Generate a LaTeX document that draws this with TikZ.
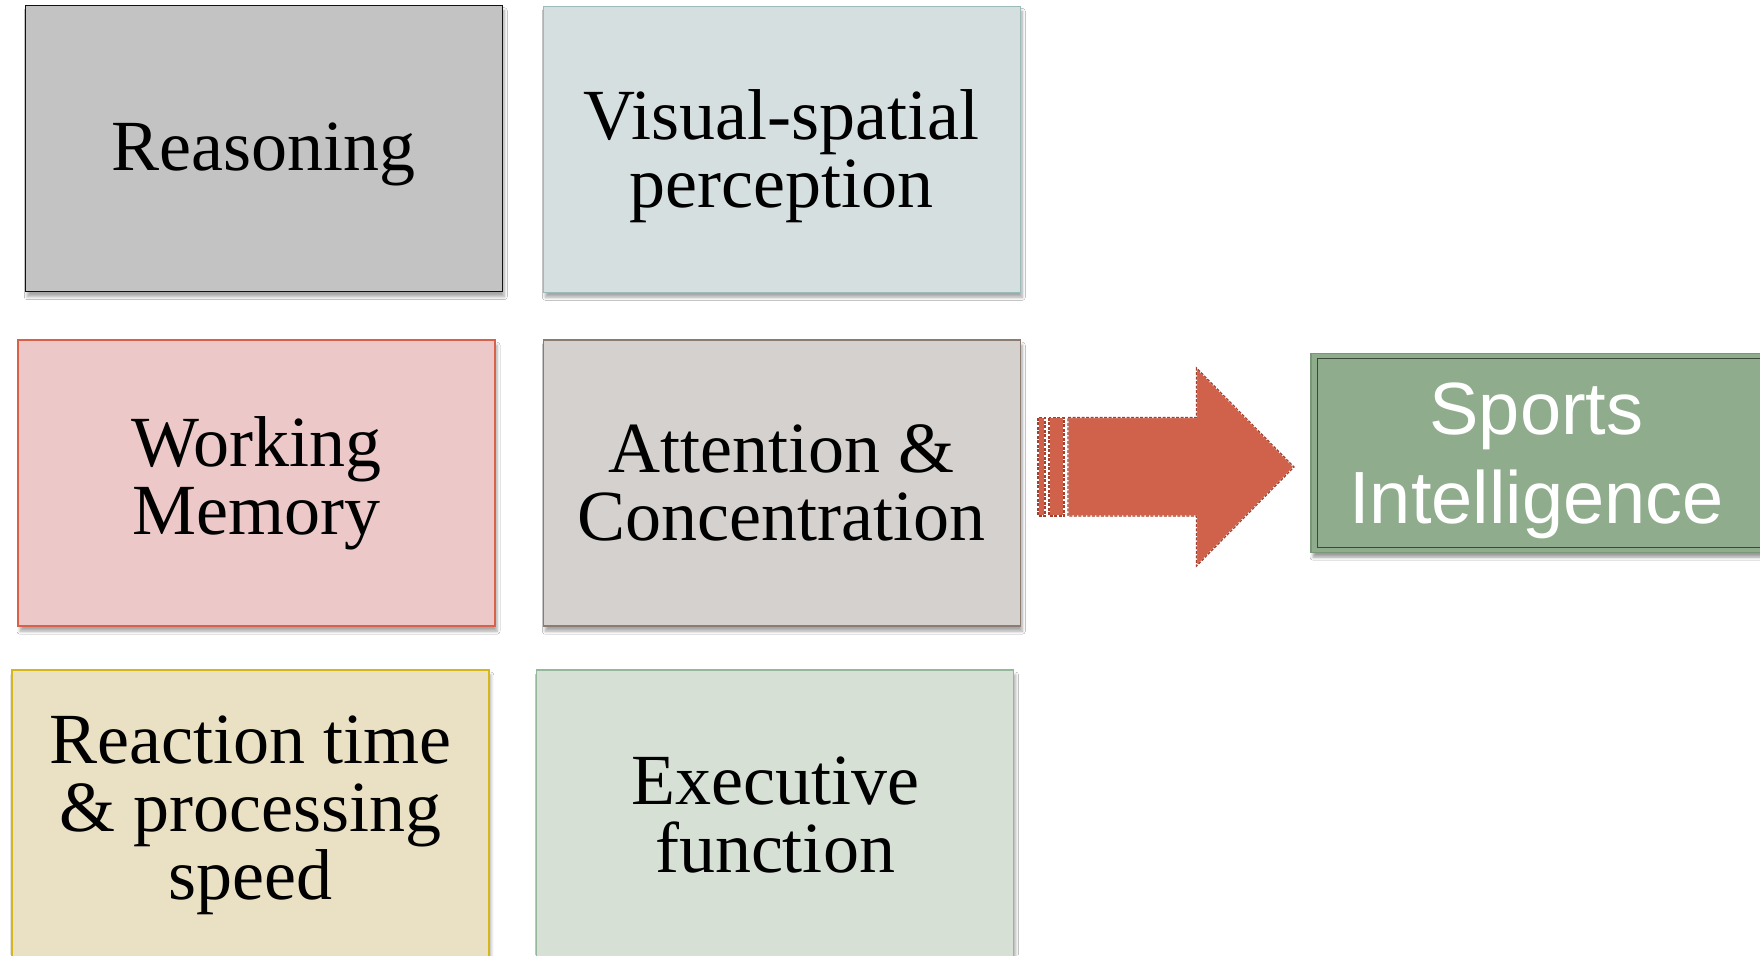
\documentclass[tikz,border=0pt]{standalone}
\usepackage{fontspec}
\setmainfont{Liberation Serif}
\newfontfamily\sportsfont{Liberation Sans}
\usetikzlibrary{shadows.blur}
\definecolor{reasfill}{HTML}{C3C3C3}
\definecolor{reasline}{HTML}{111111}
\definecolor{visfill}{HTML}{D6DFE0}
\definecolor{visline}{HTML}{9BBBBB}
\definecolor{wmfill}{HTML}{ECC9C8}
\definecolor{wmline}{HTML}{D9614A}
\definecolor{attfill}{HTML}{D5D1CE}
\definecolor{attline}{HTML}{8C7B70}
\definecolor{reacfill}{HTML}{EAE0C4}
\definecolor{reacline}{HTML}{D6B71A}
\definecolor{exefill}{HTML}{D6E0D5}
\definecolor{exeline}{HTML}{93B89A}
\definecolor{spfill}{HTML}{8FAD8C}
\definecolor{spline}{HTML}{7A9877}
\definecolor{spinner}{HTML}{3A4A38}
\definecolor{arrfill}{HTML}{D0614A}
\definecolor{arrline}{HTML}{A33F2D}
\begin{document}
\begin{tikzpicture}[x=1pt,y=-1pt,
  cellbox/.style={rectangle, inner sep=0pt, outer sep=0pt, align=center,
    line width=1.5pt, font=\fontsize{72}{68}\selectfont, text=black,
    minimum width=477pt, minimum height=286pt,
    blur shadow={shadow xshift=2pt, shadow yshift=-5pt, shadow blur radius=3pt, shadow opacity=35}},
  sportsbox/.style={rectangle, inner sep=0pt, outer sep=0pt,
    line width=1.2pt, fill=spfill, draw=spline,
    minimum width=451pt, minimum height=198.6pt,
    blur shadow={shadow xshift=2pt, shadow yshift=-5pt, shadow blur radius=3pt, shadow opacity=40}},
  sportstext/.style={text=white, font=\sportsfont\fontsize{74}{89}\selectfont, align=center, inner sep=0pt},
  arrowbody/.style={fill=arrfill, draw=white, line width=1.2pt, line join=miter},
  arrowdash/.style={draw=arrline, line width=1.2pt, dash pattern=on 3pt off 1.5pt, line join=miter},
]
\useasboundingbox (0,0) rectangle (1760,955);
\clip (0,0) rectangle (1760,955);
\fill[white] (0,0) rectangle (1760,955);

\node[cellbox, fill=reasfill, draw=reasline, text height=59pt, text depth=16pt] (reas) at (263.75,148.7) {Reasoning};
\node[cellbox, fill=visfill, draw=visline] (vis) at (781.75,149.3) {\\[-5pt]Visual-spatial\\perception};
\node[cellbox, fill=wmfill, draw=wmline] (wm) at (256.5,483.2) {Working\\Memory};
\node[cellbox, fill=attfill, draw=attline] (att) at (781.75,483.2) {Attention \&\\Concentration};
\node[cellbox, fill=reacfill, draw=reacline, minimum height=290pt] (reac) at (250.3,815) {Reaction time\\\& processing\\speed};
\node[cellbox, fill=exefill, draw=exeline, minimum height=290pt] (exe) at (775,815) {Executive\\function};

\node[sportsbox] (sports) at (1536.5,452.9) {};
\node[sportstext] (sptext) at ([yshift=-8pt]sports.center) {Sports\\Intelligence};
\draw[spinner, line width=0.8pt] ([xshift=6pt,yshift=-5pt]sports.north west) rectangle ([yshift=5pt]sports.south east);

% block arrow
\coordinate (s1a) at (1038,417.5); \coordinate (s1b) at (1045,516);
\coordinate (s2a) at (1049,417.5); \coordinate (s2b) at (1064,516);
\coordinate (sh0) at (1068,417.5);
\coordinate (hb1) at (1196.5,417.5);
\coordinate (ht) at (1196.5,368);
\coordinate (tip) at (1294,467);
\coordinate (hb) at (1196.5,566);
\coordinate (hb2) at (1196.5,516);
\coordinate (sh1) at (1068,516);
\foreach \st in {arrowbody,arrowdash}{
  \path[\st] (s1a) rectangle (s1b);
  \path[\st] (s2a) rectangle (s2b);
  \path[\st] (sh0) -- (hb1) -- (ht) -- (tip) -- (hb) -- (hb2) -- (sh1) -- cycle;
}
\end{tikzpicture}
\end{document}
